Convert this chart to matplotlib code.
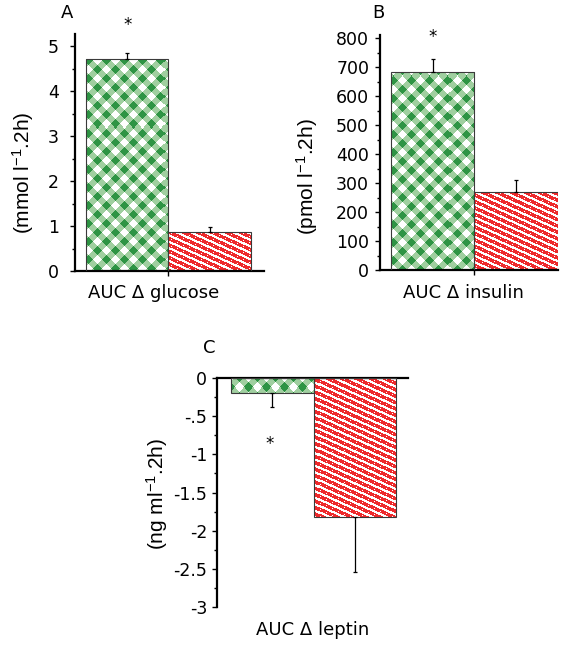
import numpy as np
import matplotlib
matplotlib.use('Agg')
import matplotlib.pyplot as plt
from matplotlib.ticker import MultipleLocator

plt.rcParams['font.family'] = ['DejaVu Sans']
plt.rcParams['mathtext.fontset'] = 'custom'
plt.rcParams['mathtext.rm'] = 'Liberation Sans'
plt.rcParams['mathtext.default'] = 'regular'

# two groups per panel: green checked bar, red striped bar
positions = [1, 2]
glucoseMean = [4.72, 0.86]
glucoseErr = [0.12, 0.12]
insulinMean = [685, 269]
insulinErr = [44, 42]
leptinMean = [-0.20, -1.82]
leptinErr = [0.18, 0.72]
leptinTicks = [0, -0.5, -1, -1.5, -2, -2.5, -3]
leptinTickLabels = ['0', '-.5', '-1', '-1.5', '-2', '-2.5', '-3']

W, H = 574, 645
LIGHT_GREEN = np.array([160, 207, 160]) / 255
DARK_GREEN = np.array([46, 148, 68]) / 255
RED = np.array([238, 42, 44]) / 255
TICK_SIZE = 12.5
LABEL_SIZE = 13


def pxAxes(fig, left, right, top, bottom):
    # place an axes using pixel bounds of the reference picture
    return fig.add_axes([left / W, 1 - bottom / H, (right - left) / W, (bottom - top) / H])


def texture(kind, w, h):
    yy, xx = np.indices((h, w))
    img = np.ones((h, w, 3))
    if kind == 'check':
        period = 18
        s1 = ((xx + yy) % period) < period / 2
        s2 = ((xx - yy) % period) < period / 2
        img[s1 ^ s2] = LIGHT_GREEN
        img[s1 & s2] = DARK_GREEN
    else:
        phase = (yy - 0.45 * xx) % 6.4
        stripe = phase < 3.9
        img[stripe] = RED
        # a few white specks running inside the red stripes
        dash = (np.abs(phase - 2.0) < 0.5) & ((xx % 6) < 1)
        img[dash] = 1.0
    return img


def drawPanel(ax, means, errs, box, xlim, ylim, up=True):
    bars = ax.bar(positions, means, width=1.0, facecolor='none',
                  edgecolor='#3a3a3a', linewidth=0.8, zorder=3)
    w = box[1] - box[0]
    h = box[3] - box[2]
    for bar, kind in zip(bars, ['check', 'stripe']):
        im = ax.imshow(texture(kind, w, h), extent=(xlim[0], xlim[1], ylim[0], ylim[1]),
                       aspect='auto', interpolation='nearest', zorder=1)
        im.set_clip_path(bar)
    zeros = np.zeros(len(errs))
    yerr = [zeros, errs] if up else [errs, zeros]
    ax.errorbar(positions, means, yerr=yerr, fmt='none', ecolor='black',
                elinewidth=0.9, capsize=1.6, capthick=0.9, zorder=4)
    ax.set_xlim(xlim)
    ax.set_ylim(ylim)
    ax.spines['right'].set_visible(False)
    for s in ['left', 'top', 'bottom']:
        ax.spines[s].set_linewidth(1.6)
    if up:
        ax.spines['top'].set_visible(False)
        ax.set_xticks([1.5])
        ax.set_xticklabels([''])
        ax.tick_params(axis='x', length=3.5, width=1)
    else:
        ax.spines['bottom'].set_visible(False)
        ax.set_xticks([])
    ax.tick_params(axis='y', which='major', length=3.5, width=1, labelsize=TICK_SIZE)
    ax.tick_params(axis='y', which='minor', length=2.2, width=1)
    return bars


fig = plt.figure(figsize=(W / 100, H / 100), dpi=100)

# A: glucose
boxA = (75, 264, 34, 271)
axA = pxAxes(fig, *boxA)
drawPanel(axA, glucoseMean, glucoseErr, boxA, (0.367, 2.658), (0, 5.27))
axA.yaxis.set_major_locator(MultipleLocator(1))
axA.yaxis.set_minor_locator(MultipleLocator(0.5))
axA.tick_params(axis='y', which='major', pad=8)
axA.annotate('*', xy=(1, glucoseMean[0] + glucoseErr[0]), xytext=(0, 17),
             textcoords='offset points', ha='center', va='baseline', fontsize=12)

# B: insulin
boxB = (380, 558, 35, 270)
axB = pxAxes(fig, *boxB)
drawPanel(axB, insulinMean, insulinErr, boxB, (0.368, 2.505), (0, 811))
axB.yaxis.set_major_locator(MultipleLocator(100))
axB.yaxis.set_minor_locator(MultipleLocator(50))
axB.tick_params(axis='y', which='major', pad=4.3)
axB.annotate('*', xy=(1, insulinMean[0] + insulinErr[0]), xytext=(0, 12),
             textcoords='offset points', ha='center', va='baseline', fontsize=12)

# C: leptin (bars hang down from zero)
boxC = (217, 408, 378, 607)
axC = pxAxes(fig, *boxC)
drawPanel(axC, leptinMean, leptinErr, boxC, (0.33, 2.645), (-3, 0), up=False)
axC.set_yticks(leptinTicks)
axC.set_yticklabels(leptinTickLabels)
axC.yaxis.set_minor_locator(MultipleLocator(0.25))
axC.tick_params(axis='y', which='major', pad=3.6)
axC.annotate('*', xy=(1, leptinMean[0] - leptinErr[0]), xytext=(-2, -30),
             textcoords='offset points', ha='center', va='baseline', fontsize=12)


def figText(x, y, s, **kw):
    fig.text(x / W, 1 - y / H, s, **kw)


figText(67, 13, 'A', ha='center', va='center', fontsize=LABEL_SIZE)
figText(378, 13, 'B', ha='center', va='center', fontsize=LABEL_SIZE)
figText(209, 348, 'C', ha='center', va='center', fontsize=LABEL_SIZE)

figText(154, 298, 'AUC \u0394 glucose', ha='center', va='baseline', fontsize=LABEL_SIZE)
figText(463, 298, 'AUC \u0394 insulin', ha='center', va='baseline', fontsize=LABEL_SIZE)
figText(313, 635, 'AUC \u0394 leptin', ha='center', va='baseline', fontsize=LABEL_SIZE)

ylabelFont = ['Liberation Sans', 'DejaVu Sans']
figText(23, 173, r'(mmol l$^{-1}$.2h)', rotation=90, ha='center', va='center',
        fontsize=15, family=ylabelFont)
figText(307, 177, r'(pmol l$^{-1}$.2h)', rotation=90, ha='center', va='center',
        fontsize=15, family=ylabelFont)
figText(157, 494, r'(ng ml$^{-1}$.2h)', rotation=90, ha='center', va='center',
        fontsize=15, family=ylabelFont)

fig.savefig('out.png', dpi=100)
